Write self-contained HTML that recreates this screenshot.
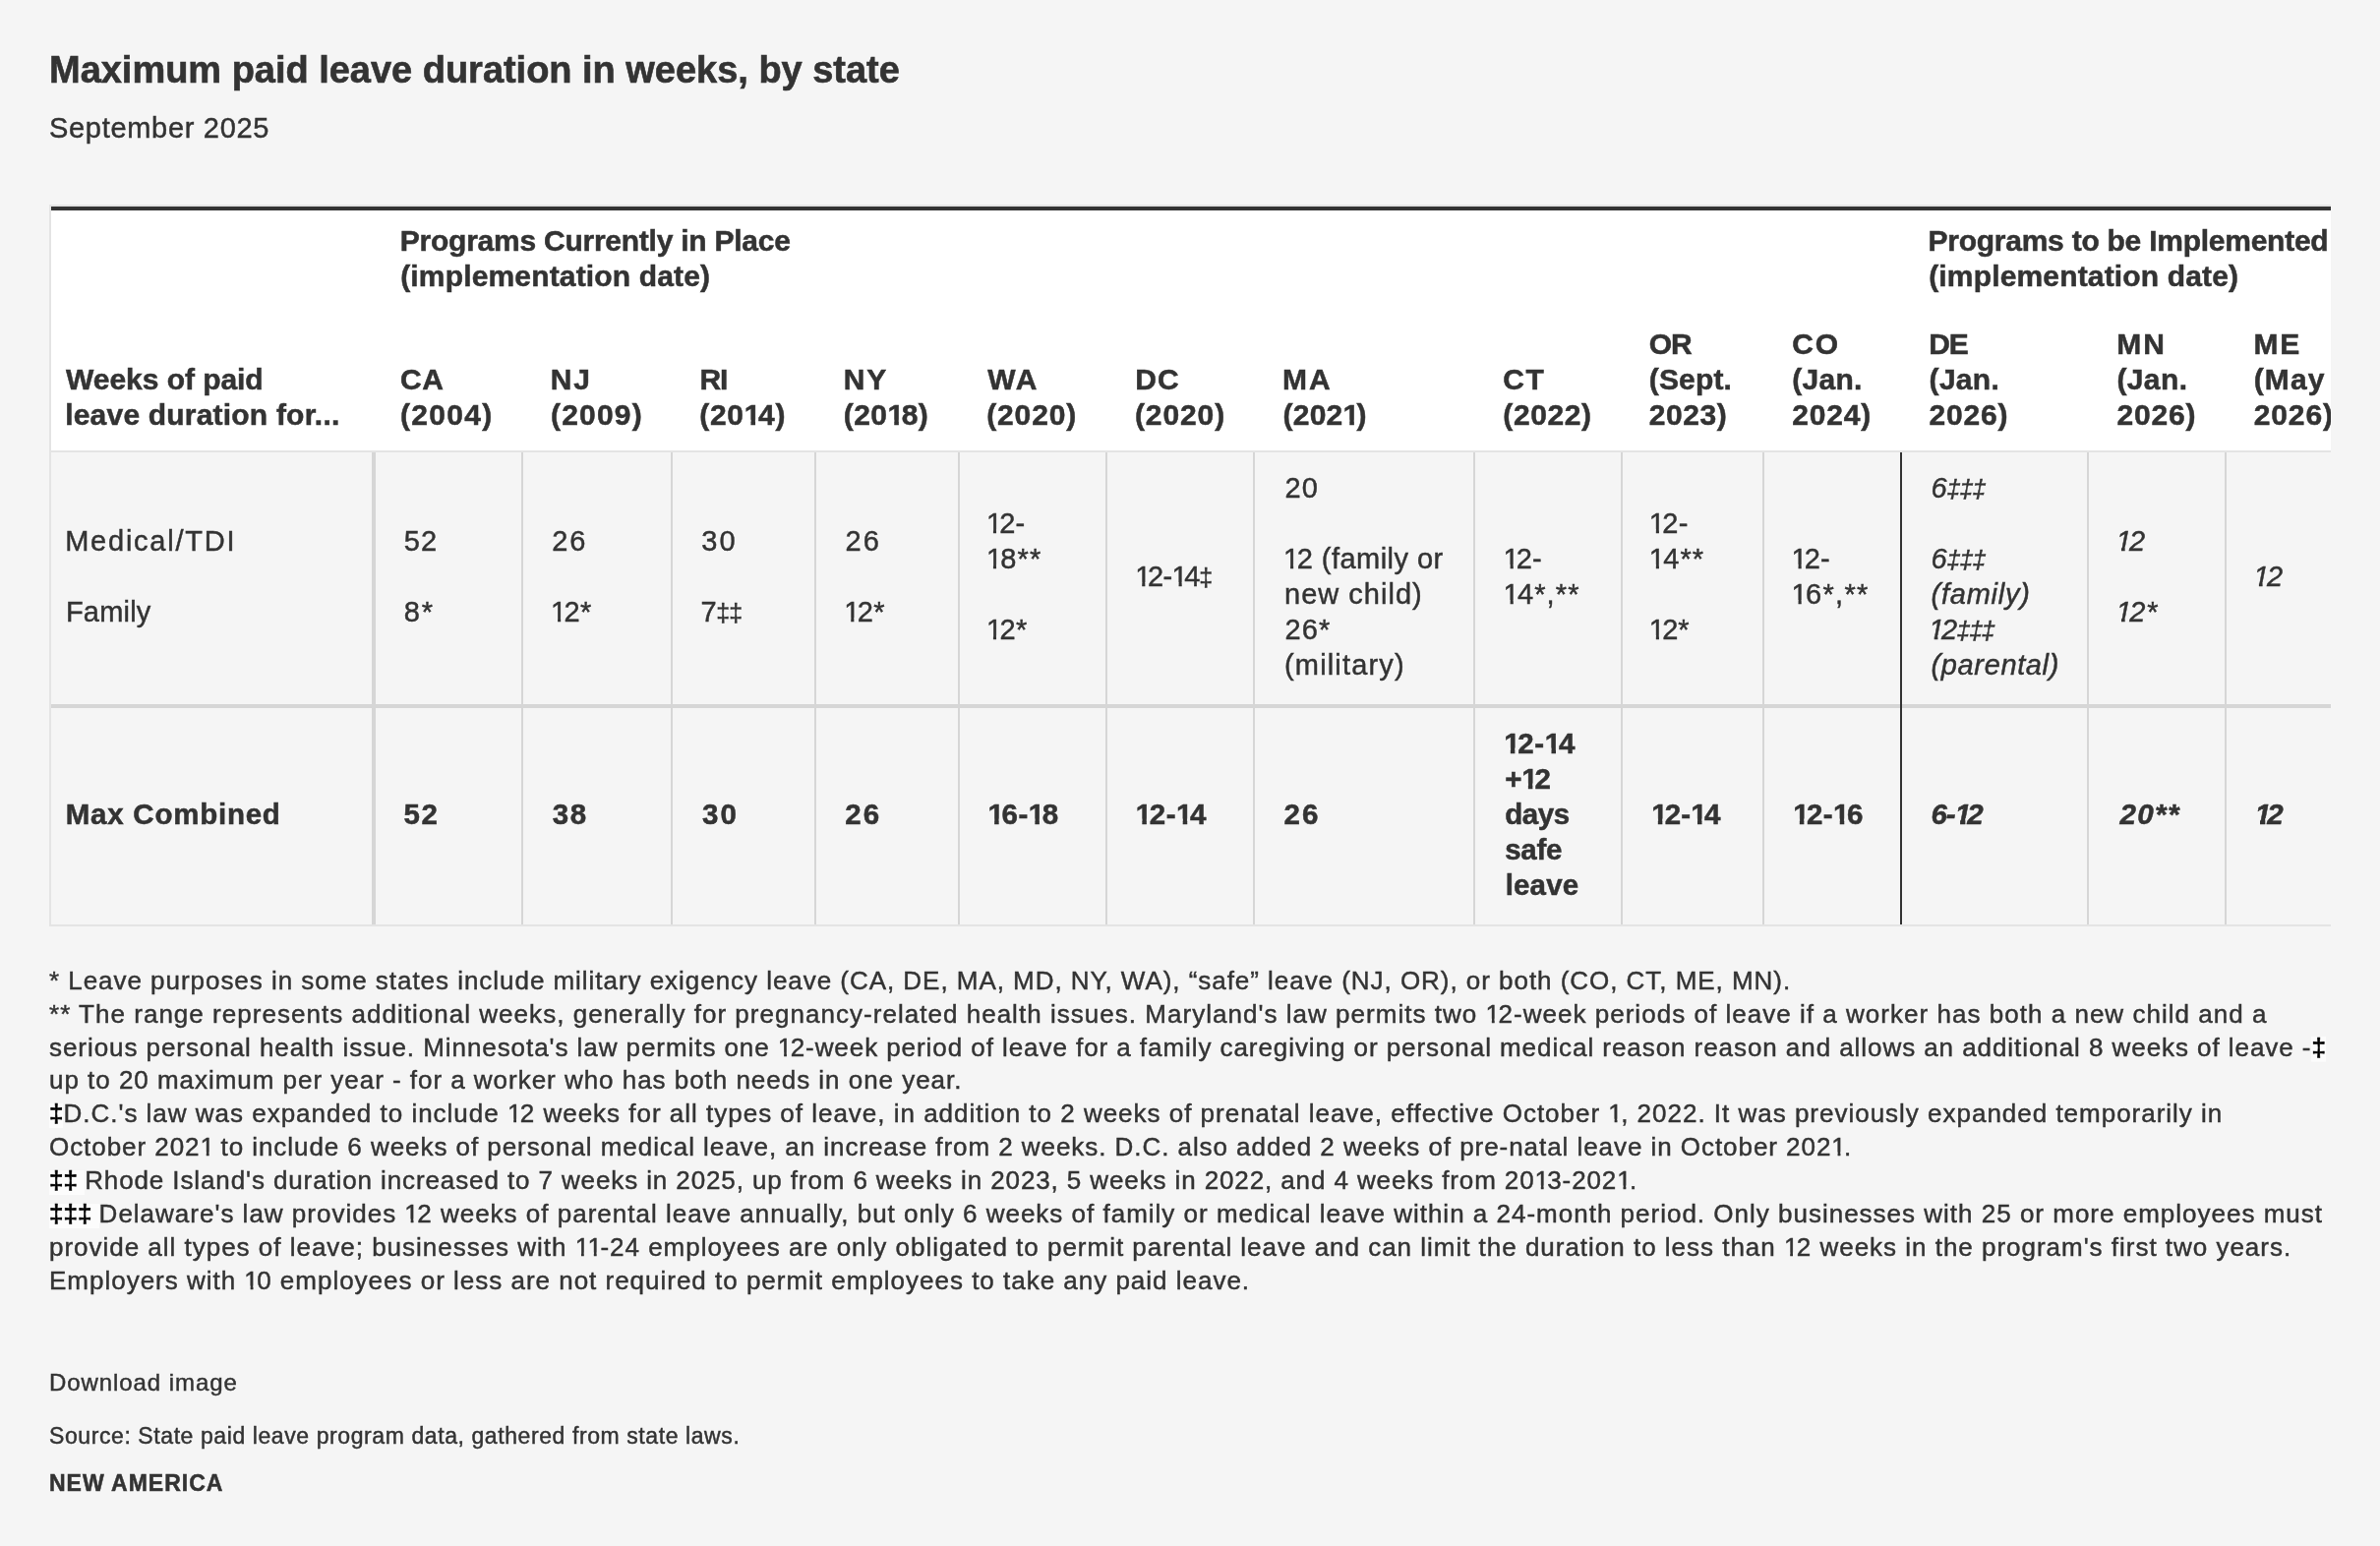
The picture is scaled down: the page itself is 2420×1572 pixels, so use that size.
<!DOCTYPE html>
<html lang="en"><head><meta charset="utf-8"><title>Maximum paid leave duration in weeks, by state</title>
<style>
html,body{margin:0;padding:0}
body{width:2420px;height:1572px;background:#f5f5f5;position:relative;overflow:hidden;font-family:"Liberation Sans",sans-serif;color:#333}
#clip{will-change:transform;position:absolute;left:0;top:0;width:2370px;height:1572px;overflow:hidden}
.r{position:absolute}
.t{position:absolute;white-space:pre;line-height:36px;height:36px}
.dd{font-size:.86em;margin:0 -.02em}
.o{display:inline-block;line-height:1;margin-right:-.1em;clip-path:polygon(0 0,100% 0,100% .7em,.35em .7em,.35em 100%,.243em 100%,.243em .7em,0 .7em)}
.b .o{clip-path:polygon(0 0,100% 0,100% .675em,.378em .675em,.378em 100%,.226em 100%,.226em .675em,0 .675em)}
.i .o{clip-path:polygon(0 0,100% 0,100% .7em,.32em .7em,.32em 100%,.194em 100%,.194em .7em,0 .7em)}
.b.i .o{clip-path:polygon(0 0,100% 0,100% .665em,.36em .665em,.36em 100%,.18em 100%,.18em .665em,0 .665em)}
.hl{letter-spacing:0;color:#000;-webkit-text-stroke:.7px #000;background:linear-gradient(#fcfcfc,#fcfcfc) no-repeat 0 4.7px/100% 25.7px}
</style></head><body>
<div id="clip">
<div class="r" style="left:52px;top:214px;width:2400px;height:244px;background:#fff"></div>
<div class="r" style="left:50px;top:208px;width:2400px;height:2px;background:#e4e4e4"></div>
<div class="r" style="left:52px;top:210px;width:2400px;height:4px;background:#333"></div>
<div class="r" style="left:50px;top:208px;width:2px;height:734px;background:#e4e4e4"></div>
<div class="r" style="left:50px;top:940px;width:2400px;height:2px;background:#e4e4e4"></div>
<div class="r" style="left:52px;top:458px;width:2400px;height:2px;background:#e4e4e4"></div>
<div class="r" style="left:52px;top:716px;width:2400px;height:4px;background:#d6d6d6"></div>
<div class="r" style="left:378px;top:460px;width:4px;height:480px;background:#d6d6d6"></div>
<div class="r" style="left:530px;top:460px;width:2px;height:480px;background:#d6d6d6"></div>
<div class="r" style="left:682px;top:460px;width:2px;height:480px;background:#d6d6d6"></div>
<div class="r" style="left:828px;top:460px;width:2px;height:480px;background:#d6d6d6"></div>
<div class="r" style="left:974px;top:460px;width:2px;height:480px;background:#d6d6d6"></div>
<div class="r" style="left:1124px;top:460px;width:2px;height:480px;background:#d6d6d6"></div>
<div class="r" style="left:1274px;top:460px;width:2px;height:480px;background:#d6d6d6"></div>
<div class="r" style="left:1498px;top:460px;width:2px;height:480px;background:#d6d6d6"></div>
<div class="r" style="left:1648px;top:460px;width:2px;height:480px;background:#d6d6d6"></div>
<div class="r" style="left:1792px;top:460px;width:2px;height:480px;background:#d6d6d6"></div>
<div class="r" style="left:2122px;top:460px;width:2px;height:480px;background:#d6d6d6"></div>
<div class="r" style="left:2262px;top:460px;width:2px;height:480px;background:#d6d6d6"></div>
<div class="r" style="left:1932px;top:460px;width:2px;height:480px;background:#333"></div>
<div class="t b" style="left:50.00px;top:53.20px;font-size:38px;letter-spacing:-0.022px;font-weight:bold;-webkit-text-stroke:.6px #333;">Maximum paid leave duration in weeks, by state</div>
<div class="t" style="left:50.00px;top:111.70px;font-size:29px;letter-spacing:0.692px;-webkit-text-stroke:.45px #333;">September 2025</div>
<div class="t b" style="left:406.80px;top:227.30px;font-size:30px;letter-spacing:-0.246px;font-weight:bold;-webkit-text-stroke:.5px #333;">Programs Currently in Place</div>
<div class="t b" style="left:407.20px;top:263.20px;font-size:30px;letter-spacing:0.160px;font-weight:bold;-webkit-text-stroke:.5px #333;">(implementation date)</div>
<div class="t b" style="left:1960.50px;top:227.30px;font-size:30px;letter-spacing:-0.250px;font-weight:bold;-webkit-text-stroke:.5px #333;">Programs to be Implemented</div>
<div class="t b" style="left:1961.20px;top:263.20px;font-size:30px;letter-spacing:0.160px;font-weight:bold;-webkit-text-stroke:.5px #333;">(implementation date)</div>
<div class="t b" style="left:67.10px;top:367.50px;font-size:30px;letter-spacing:-0.050px;font-weight:bold;-webkit-text-stroke:.5px #333;">Weeks of paid</div>
<div class="t b" style="left:66.20px;top:403.50px;font-size:30px;letter-spacing:0.200px;font-weight:bold;-webkit-text-stroke:.5px #333;">leave duration for...</div>
<div class="t b" style="left:407.00px;top:367.50px;font-size:30px;letter-spacing:0.600px;font-weight:bold;-webkit-text-stroke:.5px #333;">CA</div>
<div class="t b" style="left:407.00px;top:403.50px;font-size:30px;letter-spacing:1.280px;font-weight:bold;-webkit-text-stroke:.5px #333;">(2004)</div>
<div class="t b" style="left:559.70px;top:367.50px;font-size:30px;letter-spacing:2.000px;font-weight:bold;-webkit-text-stroke:.5px #333;">NJ</div>
<div class="t b" style="left:560.00px;top:403.50px;font-size:30px;letter-spacing:1.200px;font-weight:bold;-webkit-text-stroke:.5px #333;">(2009)</div>
<div class="t b" style="left:711.50px;top:367.50px;font-size:30px;letter-spacing:-1.200px;font-weight:bold;-webkit-text-stroke:.5px #333;">RI</div>
<div class="t b" style="left:711.30px;top:403.50px;font-size:30px;letter-spacing:0.680px;font-weight:bold;-webkit-text-stroke:.5px #333;">(20<span class="o">1</span>4)</div>
<div class="t b" style="left:857.70px;top:367.50px;font-size:30px;letter-spacing:2.000px;font-weight:bold;-webkit-text-stroke:.5px #333;">NY</div>
<div class="t b" style="left:857.70px;top:403.50px;font-size:30px;letter-spacing:0.480px;font-weight:bold;-webkit-text-stroke:.5px #333;">(20<span class="o">1</span>8)</div>
<div class="t b" style="left:1004.20px;top:367.50px;font-size:30px;letter-spacing:2.000px;font-weight:bold;-webkit-text-stroke:.5px #333;">WA</div>
<div class="t b" style="left:1003.20px;top:403.50px;font-size:30px;letter-spacing:0.880px;font-weight:bold;-webkit-text-stroke:.5px #333;">(2020)</div>
<div class="t b" style="left:1154.20px;top:367.50px;font-size:30px;letter-spacing:1.200px;font-weight:bold;-webkit-text-stroke:.5px #333;">DC</div>
<div class="t b" style="left:1153.90px;top:403.50px;font-size:30px;letter-spacing:0.920px;font-weight:bold;-webkit-text-stroke:.5px #333;">(2020)</div>
<div class="t b" style="left:1304.00px;top:367.50px;font-size:30px;letter-spacing:2.000px;font-weight:bold;-webkit-text-stroke:.5px #333;">MA</div>
<div class="t b" style="left:1304.50px;top:403.50px;font-size:30px;letter-spacing:0.240px;font-weight:bold;-webkit-text-stroke:.5px #333;">(202<span class="o">1</span>)</div>
<div class="t b" style="left:1528.30px;top:367.50px;font-size:30px;letter-spacing:1.600px;font-weight:bold;-webkit-text-stroke:.5px #333;">CT</div>
<div class="t b" style="left:1528.30px;top:403.50px;font-size:30px;letter-spacing:0.600px;font-weight:bold;-webkit-text-stroke:.5px #333;">(2022)</div>
<div class="t b" style="left:1676.80px;top:331.50px;font-size:30px;letter-spacing:-1.200px;font-weight:bold;-webkit-text-stroke:.5px #333;">OR</div>
<div class="t b" style="left:1676.80px;top:367.50px;font-size:30px;letter-spacing:0.160px;font-weight:bold;-webkit-text-stroke:.5px #333;">(Sept.</div>
<div class="t b" style="left:1676.80px;top:403.50px;font-size:30px;letter-spacing:0.550px;font-weight:bold;-webkit-text-stroke:.5px #333;">2023)</div>
<div class="t b" style="left:1822.20px;top:331.50px;font-size:30px;letter-spacing:2.000px;font-weight:bold;-webkit-text-stroke:.5px #333;">CO</div>
<div class="t b" style="left:1822.20px;top:367.50px;font-size:30px;letter-spacing:0.300px;font-weight:bold;-webkit-text-stroke:.5px #333;">(Jan.</div>
<div class="t b" style="left:1822.20px;top:403.50px;font-size:30px;letter-spacing:0.800px;font-weight:bold;-webkit-text-stroke:.5px #333;">2024)</div>
<div class="t b" style="left:1961.30px;top:331.50px;font-size:30px;letter-spacing:-1.200px;font-weight:bold;-webkit-text-stroke:.5px #333;">DE</div>
<div class="t b" style="left:1961.60px;top:367.50px;font-size:30px;letter-spacing:0.300px;font-weight:bold;-webkit-text-stroke:.5px #333;">(Jan.</div>
<div class="t b" style="left:1961.60px;top:403.50px;font-size:30px;letter-spacing:0.800px;font-weight:bold;-webkit-text-stroke:.5px #333;">2026)</div>
<div class="t b" style="left:2152.20px;top:331.50px;font-size:30px;letter-spacing:2.000px;font-weight:bold;-webkit-text-stroke:.5px #333;">MN</div>
<div class="t b" style="left:2152.40px;top:367.50px;font-size:30px;letter-spacing:0.400px;font-weight:bold;-webkit-text-stroke:.5px #333;">(Jan.</div>
<div class="t b" style="left:2152.40px;top:403.50px;font-size:30px;letter-spacing:0.850px;font-weight:bold;-webkit-text-stroke:.5px #333;">2026)</div>
<div class="t b" style="left:2291.60px;top:331.50px;font-size:30px;letter-spacing:1.600px;font-weight:bold;-webkit-text-stroke:.5px #333;">ME</div>
<div class="t b" style="left:2291.80px;top:367.50px;font-size:30px;letter-spacing:1.067px;font-weight:bold;-webkit-text-stroke:.5px #333;">(May</div>
<div class="t b" style="left:2291.80px;top:403.50px;font-size:30px;letter-spacing:0.850px;font-weight:bold;-webkit-text-stroke:.5px #333;">2026)</div>
<div class="t" style="left:66.20px;top:531.90px;font-size:29px;letter-spacing:1.760px;-webkit-text-stroke:.45px #333;">Medical/TDI</div>
<div class="t" style="left:66.90px;top:603.90px;font-size:29px;letter-spacing:0.200px;-webkit-text-stroke:.45px #333;">Family</div>
<div class="t" style="left:410.70px;top:531.90px;font-size:29px;letter-spacing:1.200px;-webkit-text-stroke:.45px #333;">52</div>
<div class="t" style="left:410.70px;top:603.90px;font-size:29px;letter-spacing:2.000px;-webkit-text-stroke:.45px #333;">8*</div>
<div class="t" style="left:561.20px;top:531.90px;font-size:29px;letter-spacing:2.000px;-webkit-text-stroke:.45px #333;">26</div>
<div class="t" style="left:560.00px;top:603.90px;font-size:29px;letter-spacing:0.300px;-webkit-text-stroke:.45px #333;"><span class="o">1</span>2*</div>
<div class="t" style="left:713.30px;top:531.90px;font-size:29px;letter-spacing:2.000px;-webkit-text-stroke:.45px #333;">30</div>
<div class="t" style="left:712.50px;top:603.90px;font-size:29px;letter-spacing:0.100px;-webkit-text-stroke:.45px #333;">7<span class="dd">‡</span><span class="dd">‡</span></div>
<div class="t" style="left:859.50px;top:531.90px;font-size:29px;letter-spacing:2.000px;-webkit-text-stroke:.45px #333;">26</div>
<div class="t" style="left:858.20px;top:603.90px;font-size:29px;letter-spacing:0.300px;-webkit-text-stroke:.45px #333;"><span class="o">1</span>2*</div>
<div class="t" style="left:1002.90px;top:513.90px;font-size:29px;letter-spacing:0.100px;-webkit-text-stroke:.45px #333;"><span class="o">1</span>2-</div>
<div class="t" style="left:1002.90px;top:549.90px;font-size:29px;letter-spacing:1.133px;-webkit-text-stroke:.45px #333;"><span class="o">1</span>8**</div>
<div class="t" style="left:1002.90px;top:621.90px;font-size:29px;letter-spacing:0.400px;-webkit-text-stroke:.45px #333;"><span class="o">1</span>2*</div>
<div class="t" style="left:1154.20px;top:567.90px;font-size:29px;letter-spacing:-0.560px;-webkit-text-stroke:.45px #333;"><span class="o">1</span>2-<span class="o">1</span>4<span class="dd">‡</span></div>
<div class="t" style="left:1306.50px;top:477.90px;font-size:29px;letter-spacing:1.000px;-webkit-text-stroke:.45px #333;">20</div>
<div class="t" style="left:1305.00px;top:549.90px;font-size:29px;letter-spacing:0.467px;-webkit-text-stroke:.45px #333;"><span class="o">1</span>2 (family or</div>
<div class="t" style="left:1306.00px;top:585.90px;font-size:29px;letter-spacing:1.022px;-webkit-text-stroke:.45px #333;">new child)</div>
<div class="t" style="left:1306.50px;top:621.90px;font-size:29px;letter-spacing:1.100px;-webkit-text-stroke:.45px #333;">26*</div>
<div class="t" style="left:1306.00px;top:657.90px;font-size:29px;letter-spacing:1.156px;-webkit-text-stroke:.45px #333;">(military)</div>
<div class="t" style="left:1528.60px;top:549.90px;font-size:29px;-webkit-text-stroke:.45px #333;"><span class="o">1</span>2-</div>
<div class="t" style="left:1528.60px;top:585.90px;font-size:29px;letter-spacing:1.120px;-webkit-text-stroke:.45px #333;"><span class="o">1</span>4*,**</div>
<div class="t" style="left:1676.80px;top:513.90px;font-size:29px;letter-spacing:0.300px;-webkit-text-stroke:.45px #333;"><span class="o">1</span>2-</div>
<div class="t" style="left:1676.80px;top:549.90px;font-size:29px;letter-spacing:1.133px;-webkit-text-stroke:.45px #333;"><span class="o">1</span>4**</div>
<div class="t" style="left:1676.80px;top:621.90px;font-size:29px;letter-spacing:0.100px;-webkit-text-stroke:.45px #333;"><span class="o">1</span>2*</div>
<div class="t" style="left:1821.50px;top:549.90px;font-size:29px;-webkit-text-stroke:.45px #333;"><span class="o">1</span>2-</div>
<div class="t" style="left:1821.50px;top:585.90px;font-size:29px;letter-spacing:1.320px;-webkit-text-stroke:.45px #333;"><span class="o">1</span>6*,**</div>
<div class="t i" style="left:1963.60px;top:477.90px;font-size:29px;letter-spacing:0.133px;-webkit-text-stroke:.45px #333;font-style:italic;">6<span class="dd">‡</span><span class="dd">‡</span><span class="dd">‡</span></div>
<div class="t i" style="left:1963.60px;top:549.90px;font-size:29px;letter-spacing:0.133px;-webkit-text-stroke:.45px #333;font-style:italic;">6<span class="dd">‡</span><span class="dd">‡</span><span class="dd">‡</span></div>
<div class="t i" style="left:1963.60px;top:585.90px;font-size:29px;letter-spacing:0.743px;-webkit-text-stroke:.45px #333;font-style:italic;">(family)</div>
<div class="t i" style="left:1961.10px;top:621.90px;font-size:29px;letter-spacing:-0.250px;-webkit-text-stroke:.45px #333;font-style:italic;"><span class="o">1</span>2<span class="dd">‡</span><span class="dd">‡</span><span class="dd">‡</span></div>
<div class="t i" style="left:1963.60px;top:657.90px;font-size:29px;letter-spacing:0.622px;-webkit-text-stroke:.45px #333;font-style:italic;">(parental)</div>
<div class="t i" style="left:2151.40px;top:531.90px;font-size:29px;letter-spacing:0.400px;-webkit-text-stroke:.45px #333;font-style:italic;"><span class="o">1</span>2</div>
<div class="t i" style="left:2151.40px;top:603.90px;font-size:29px;letter-spacing:0.600px;-webkit-text-stroke:.45px #333;font-style:italic;"><span class="o">1</span>2*</div>
<div class="t i" style="left:2291.30px;top:567.90px;font-size:29px;letter-spacing:0.400px;-webkit-text-stroke:.45px #333;font-style:italic;"><span class="o">1</span>2</div>
<div class="t b" style="left:66.70px;top:809.50px;font-size:29.5px;letter-spacing:0.764px;font-weight:bold;-webkit-text-stroke:.5px #333;">Max Combined</div>
<div class="t b" style="left:410.50px;top:809.50px;font-size:29.5px;letter-spacing:1.600px;font-weight:bold;-webkit-text-stroke:.5px #333;">52</div>
<div class="t b" style="left:561.80px;top:809.50px;font-size:29.5px;letter-spacing:1.600px;font-weight:bold;-webkit-text-stroke:.5px #333;">38</div>
<div class="t b" style="left:714.00px;top:809.50px;font-size:29.5px;letter-spacing:2.000px;font-weight:bold;-webkit-text-stroke:.5px #333;">30</div>
<div class="t b" style="left:859.30px;top:809.50px;font-size:29.5px;letter-spacing:2.000px;font-weight:bold;-webkit-text-stroke:.5px #333;">26</div>
<div class="t b" style="left:1004.50px;top:809.50px;font-size:29.5px;letter-spacing:0.500px;font-weight:bold;-webkit-text-stroke:.5px #333;"><span class="o">1</span>6-<span class="o">1</span>8</div>
<div class="t b" style="left:1154.70px;top:809.50px;font-size:29.5px;letter-spacing:0.550px;font-weight:bold;-webkit-text-stroke:.5px #333;"><span class="o">1</span>2-<span class="o">1</span>4</div>
<div class="t b" style="left:1305.50px;top:809.50px;font-size:29.5px;letter-spacing:2.000px;font-weight:bold;-webkit-text-stroke:.5px #333;">26</div>
<div class="t b" style="left:1529.20px;top:737.50px;font-size:29.5px;letter-spacing:0.650px;font-weight:bold;-webkit-text-stroke:.5px #333;"><span class="o">1</span>2-<span class="o">1</span>4</div>
<div class="t b" style="left:1530.20px;top:773.50px;font-size:29.5px;letter-spacing:-0.200px;font-weight:bold;-webkit-text-stroke:.5px #333;">+<span class="o">1</span>2</div>
<div class="t b" style="left:1530.20px;top:809.50px;font-size:29.5px;letter-spacing:-0.400px;font-weight:bold;-webkit-text-stroke:.5px #333;">days</div>
<div class="t b" style="left:1530.20px;top:845.50px;font-size:29.5px;letter-spacing:-0.267px;font-weight:bold;-webkit-text-stroke:.5px #333;">safe</div>
<div class="t b" style="left:1530.70px;top:881.50px;font-size:29.5px;letter-spacing:0.150px;font-weight:bold;-webkit-text-stroke:.5px #333;">leave</div>
<div class="t b" style="left:1679.20px;top:809.50px;font-size:29.5px;letter-spacing:0.150px;font-weight:bold;-webkit-text-stroke:.5px #333;"><span class="o">1</span>2-<span class="o">1</span>4</div>
<div class="t b" style="left:1823.20px;top:809.50px;font-size:29.5px;letter-spacing:0.400px;font-weight:bold;-webkit-text-stroke:.5px #333;"><span class="o">1</span>2-<span class="o">1</span>6</div>
<div class="t b i" style="left:1963.40px;top:809.50px;font-size:29.5px;letter-spacing:-0.933px;font-weight:bold;-webkit-text-stroke:.5px #333;font-style:italic;">6-<span class="o">1</span>2</div>
<div class="t b i" style="left:2155.60px;top:809.50px;font-size:29.5px;letter-spacing:1.333px;font-weight:bold;-webkit-text-stroke:.5px #333;font-style:italic;">20**</div>
<div class="t b i" style="left:2292.70px;top:809.50px;font-size:29.5px;letter-spacing:-0.800px;font-weight:bold;-webkit-text-stroke:.5px #333;font-style:italic;"><span class="o">1</span>2</div>
<div class="t" style="left:50.00px;top:978.60px;font-size:26px;letter-spacing:0.961px;-webkit-text-stroke:.45px #333;">* Leave purposes in some states include military exigency leave (CA, DE, MA, MD, NY, WA), “safe” leave (NJ, OR), or both (CO, CT, ME, MN).</div>
<div class="t" style="left:50.00px;top:1012.56px;font-size:26px;letter-spacing:1.028px;-webkit-text-stroke:.45px #333;">** The range represents additional weeks, generally for pregnancy-related health issues. Maryland's law permits two <span class="o">1</span>2-week periods of leave if a worker has both a new child and a</div>
<div class="t" style="left:50.00px;top:1046.52px;font-size:26px;letter-spacing:0.935px;-webkit-text-stroke:.45px #333;">serious personal health issue. Minnesota's law permits one <span class="o">1</span>2-week period of leave for a family caregiving or personal medical reason reason and allows an additional 8 weeks of leave -<span class=hl>‡</span></div>
<div class="t" style="left:50.00px;top:1080.48px;font-size:26px;letter-spacing:0.972px;-webkit-text-stroke:.45px #333;">up to 20 maximum per year - for a worker who has both needs in one year.</div>
<div class="t" style="left:50.00px;top:1114.44px;font-size:26px;letter-spacing:0.989px;-webkit-text-stroke:.45px #333;"><span class=hl>‡</span>D.C.'s law was expanded to include <span class="o">1</span>2 weeks for all types of leave, in addition to 2 weeks of prenatal leave, effective October <span class="o">1</span>, 2022. It was previously expanded temporarily in</div>
<div class="t" style="left:50.00px;top:1148.40px;font-size:26px;letter-spacing:0.944px;-webkit-text-stroke:.45px #333;">October 202<span class="o">1</span> to include 6 weeks of personal medical leave, an increase from 2 weeks. D.C. also added 2 weeks of pre-natal leave in October 202<span class="o">1</span>.</div>
<div class="t" style="left:50.00px;top:1182.36px;font-size:26px;letter-spacing:0.888px;-webkit-text-stroke:.45px #333;"><span class=hl>‡‡ </span>Rhode Island's duration increased to 7 weeks in 2025, up from 6 weeks in 2023, 5 weeks in 2022, and 4 weeks from 20<span class="o">1</span>3-202<span class="o">1</span>.</div>
<div class="t" style="left:50.00px;top:1216.32px;font-size:26px;letter-spacing:1.000px;-webkit-text-stroke:.45px #333;"><span class=hl>‡‡‡ </span>Delaware's law provides <span class="o">1</span>2 weeks of parental leave annually, but only 6 weeks of family or medical leave within a 24-month period. Only businesses with 25 or more employees must</div>
<div class="t" style="left:50.00px;top:1250.28px;font-size:26px;letter-spacing:0.984px;-webkit-text-stroke:.45px #333;">provide all types of leave; businesses with <span class="o">1</span><span class="o">1</span>-24 employees are only obligated to permit parental leave and can limit the duration to less than <span class="o">1</span>2 weeks in the program's first two years.</div>
<div class="t" style="left:50.00px;top:1284.24px;font-size:26px;letter-spacing:0.989px;-webkit-text-stroke:.45px #333;">Employers with <span class="o">1</span>0 employees or less are not required to permit employees to take any paid leave.</div>
<div class="t" style="left:50.00px;top:1387.50px;font-size:24px;letter-spacing:0.923px;-webkit-text-stroke:.45px #333;">Download image</div>
<div class="t" style="left:50.00px;top:1442.00px;font-size:23px;letter-spacing:0.587px;-webkit-text-stroke:.45px #333;">Source: State paid leave program data, gathered from state laws.</div>
<div class="t b" style="left:50.00px;top:1489.90px;font-size:23px;letter-spacing:0.980px;font-weight:bold;-webkit-text-stroke:.5px #333;">NEW AMERICA</div>
</div>
</body></html>
